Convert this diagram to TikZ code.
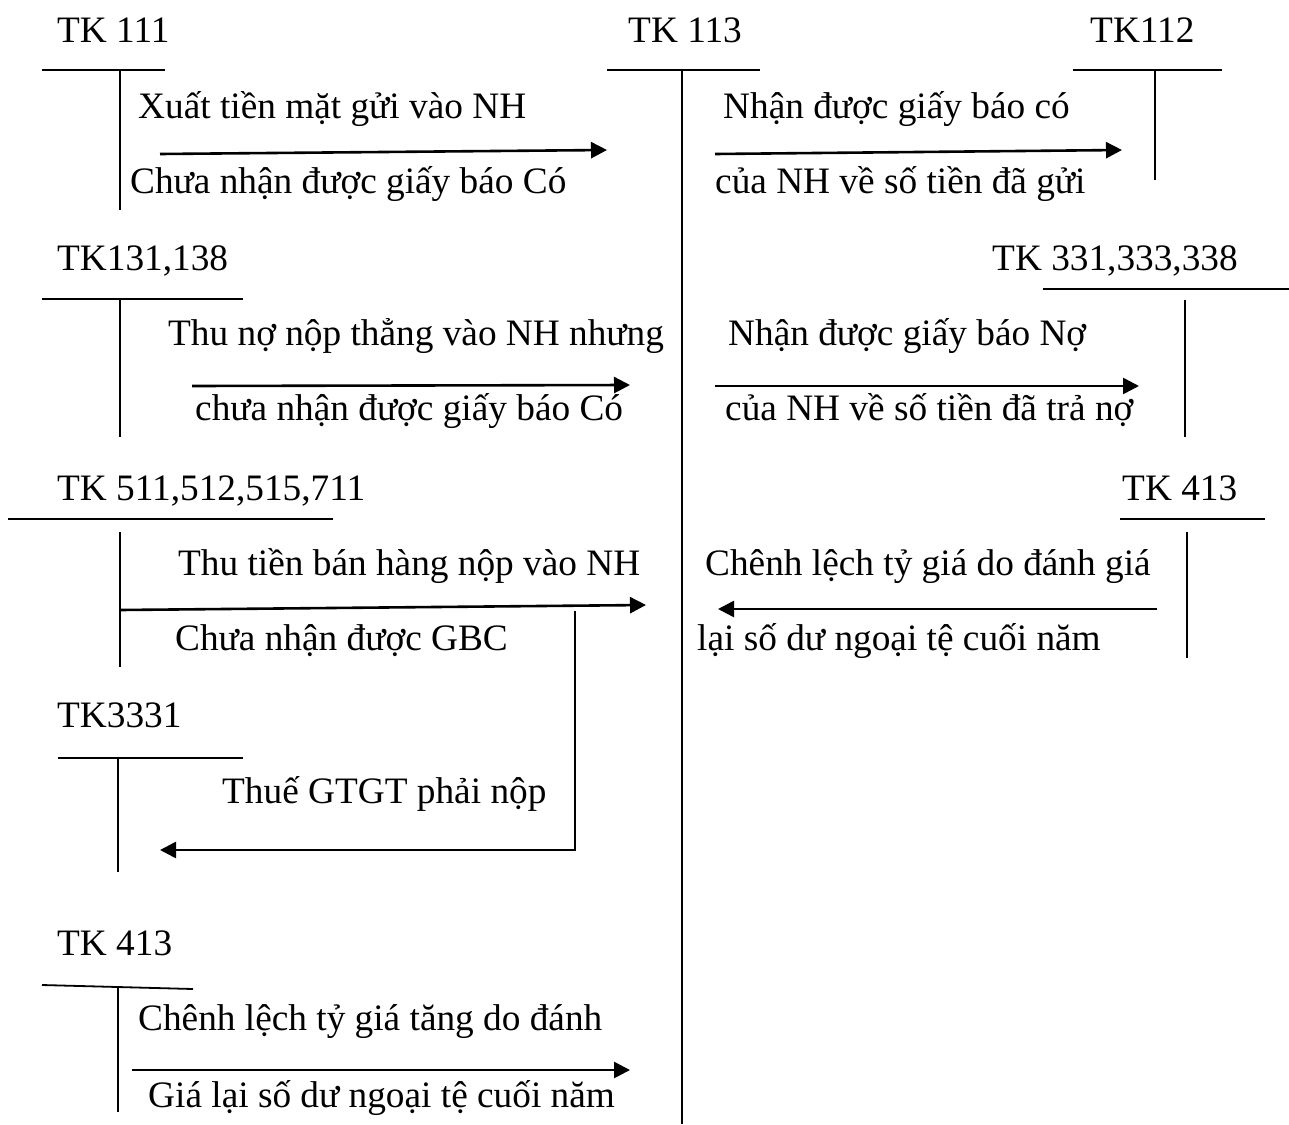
\documentclass[tikz,border=0pt]{standalone}
\usepackage{fontspec}
\setmainfont{Liberation Serif}
\usetikzlibrary{arrows.meta}

\tikzset{
  txt/.style={anchor=base west, inner sep=0pt, font=\fontsize{37.3}{44}\selectfont},
  tline/.style={line width=1.8pt},
  flow/.style={line width=2.6pt, -{Triangle[length=16pt,width=16pt]}},
}

\begin{document}
\begin{tikzpicture}[x=1pt,y=-1pt]
\useasboundingbox (0,0) rectangle (1289,1124);

% ---------- account titles ----------
\node[txt] (t111)  at (57,42)   {TK 111};
\node[txt] (t113)  at (628,42)  {TK 113};
\node[txt] (t112)  at (1090,42) {TK112};
\node[txt] (t131)  at (57,270)  {TK131,138};
\node[txt] (t331)  at (992,270) {TK 331,333,338};
\node[txt] (t511)  at (57,500)  {TK 511,512,515,711};
\node[txt] (t413r) at (1122,500){TK 413};
\node[txt] (t3331) at (57,727)  {TK3331};
\node[txt] (t413l) at (57,955)  {TK 413};

% ---------- T-accounts ----------
\draw[tline] (42,70) -- (165,70);   \draw[tline] (120,70) -- (120,210);
\draw[tline] (607,70) -- (760,70);  \draw[tline] (682,70) -- (682,1124);
\draw[tline] (1073,70) -- (1222,70); \draw[tline] (1155,70) -- (1155,180);
\draw[tline] (42,299) -- (243,299); \draw[tline] (120,299) -- (120,437);
\draw[tline] (1043,289) -- (1289,289); \draw[tline] (1185,300) -- (1185,437);
\draw[tline] (8,519) -- (333,519);  \draw[tline] (120,532) -- (120,667);
\draw[tline] (1120,519) -- (1265,519); \draw[tline] (1187,532) -- (1187,658);
\draw[tline] (58,758) -- (243,758); \draw[tline] (118,758) -- (118,872);
\draw[tline] (42,985) -- (193,989); \draw[tline] (118,988) -- (118,1112);

% ---------- entry texts ----------
\node[txt] (e1a) at (138,118)  {Xuất tiền mặt gửi vào NH};
\node[txt] (e1b) at (130,193)  {Chưa nhận được giấy báo Có};
\node[txt] (e2a) at (723,118)  {Nhận được giấy báo có};
\node[txt] (e2b) at (715,193)  {của NH về số tiền đã gửi};
\node[txt] (e3a) at (168,345)  {Thu nợ nộp thẳng vào NH nhưng};
\node[txt] (e3b) at (195,420)  {chưa nhận được giấy báo Có};
\node[txt] (e4a) at (728,345)  {Nhận được giấy báo Nợ};
\node[txt] (e4b) at (725,420)  {của NH về số tiền đã trả nợ};
\node[txt] (e5a) at (178,575)  {Thu tiền bán hàng nộp vào NH};
\node[txt] (e5b) at (175,650)  {Chưa nhận được GBC};
\node[txt] (e6a) at (705,575)  {Chênh lệch tỷ giá do đánh giá};
\node[txt] (e6b) at (697,650)  {lại số dư ngoại tệ cuối năm};
\node[txt] (e7a) at (222,803)  {Thuế GTGT phải nộp};
\node[txt] (e8a) at (138,1030) {Chênh lệch tỷ giá tăng do đánh};
\node[txt] (e8b) at (148,1107) {Giá lại số dư ngoại tệ cuối năm};

% ---------- arrow end points ----------
\coordinate (a1s) at (160,154);  \coordinate (a1e) at (607,150);
\coordinate (a2s) at (715,154);  \coordinate (a2e) at (1122,150);
\coordinate (a3s) at (192,386);  \coordinate (a3e) at (630,385);
\coordinate (a4s) at (715,386);  \coordinate (a4e) at (1139,386);
\coordinate (a5s) at (120,610);  \coordinate (a5e) at (646,605);
\coordinate (a6s) at (1157,609); \coordinate (a6e) at (718,609);
\coordinate (a7s) at (575,611);  \coordinate (a7c) at (575,850);
\coordinate (a7e) at (160,850);
\coordinate (a8s) at (132,1070); \coordinate (a8e) at (630,1070);

% ---------- flows ----------
\draw[flow] (a1s) -- (a1e);
\draw[flow] (a2s) -- (a2e);
\draw[flow] (a3s) -- (a3e);
\draw[flow] (a4s) -- (a4e);
\draw[flow] (a5s) -- (a5e);
\draw[flow] (a6s) -- (a6e);
\draw[flow] (a7s) -- (a7c) -- (a7e);
\draw[flow] (a8s) -- (a8e);
\end{tikzpicture}
\end{document}
